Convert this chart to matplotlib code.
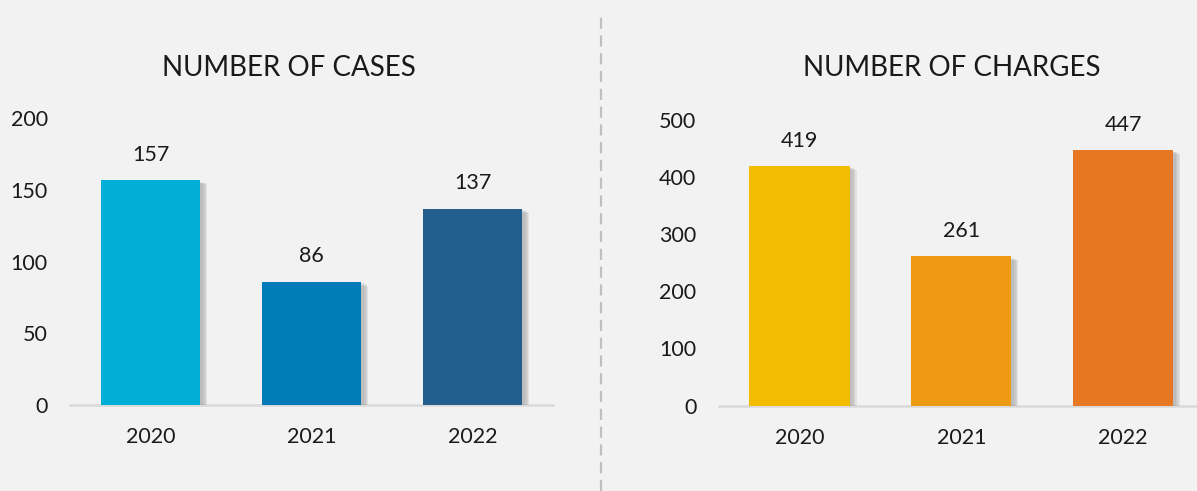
import matplotlib
matplotlib.use("Agg")
import matplotlib.pyplot as plt
import matplotlib.patheffects as pe
from matplotlib.lines import Line2D

years = ["2020", "2021", "2022"]
cases = [157, 86, 137]
charges = [419, 261, 447]
case_colors = ["#00AED6", "#007BB8", "#225F8E"]
charge_colors = ["#F4BC00", "#EF9A13", "#E77722"]
titles = ["NUMBER OF CASES", "NUMBER OF CHARGES"]

BG = "#F2F2F2"
plt.rcParams['font.family'] = ['Lato', 'DejaVu Sans']

fig = plt.figure(figsize=(11.97, 4.91), dpi=100, facecolor=BG)

ax1 = fig.add_axes([70/1197, 86/491, 483/1197, 286.6/491])
ax2 = fig.add_axes([718.6/1197, 85.5/491, 485.4/1197, 285.8/491])

def draw(ax, vals, colors, ymax, step):
    ax.set_facecolor(BG)
    x = range(len(years))
    bars = ax.bar(x, vals, width=0.62, color=colors, zorder=3)
    shadow = [pe.SimplePatchShadow(offset=(o, -o * 0.6), shadow_rgbFace="#8a8a8a", alpha=0.16)
              for o in (5, 4, 3, 2)]
    for b in bars:
        b.set_path_effects(shadow + [pe.Normal()])
    for xi, v in zip(x, vals):
        ax.annotate(str(v), (xi, v), xytext=(0, 11), textcoords="offset points",
                    ha="center", va="bottom", fontsize=15.5, color="#1a1a1a")
    ax.set_xlim(-0.5, len(years) - 0.5)
    ax.set_ylim(0, ymax)
    ax.set_yticks(range(0, ymax + 1, step))
    ax.set_xticks(list(x))
    ax.set_xticklabels(years)
    for s in ["top", "right", "left"]:
        ax.spines[s].set_visible(False)
    ax.spines["bottom"].set_color("#D9D9D9")
    ax.spines["bottom"].set_linewidth(1.8)
    ax.spines["bottom"].set_zorder(2)
    ax.tick_params(axis="both", length=0, labelsize=15.5, colors="#1a1a1a")
    ax.tick_params(axis="x", pad=16)
    ax.tick_params(axis="y", pad=16)

draw(ax1, cases, case_colors, 200, 50)
draw(ax2, charges, charge_colors, 500, 100)

fig.text(289/1197, 1 - 68/491, titles[0], ha="center", va="center", fontsize=20, color="#1a1a1a")
fig.text(952/1197, 1 - 68/491, titles[1], ha="center", va="center", fontsize=20, color="#1a1a1a")

fig.add_artist(Line2D([601/1197, 601/1197], [0, 1 - 12/491], transform=fig.transFigure,
                      color="#BFBFBF", linewidth=1.6, linestyle=(0, (5, 3))))

fig.savefig("out.png", dpi=100, facecolor=BG)
